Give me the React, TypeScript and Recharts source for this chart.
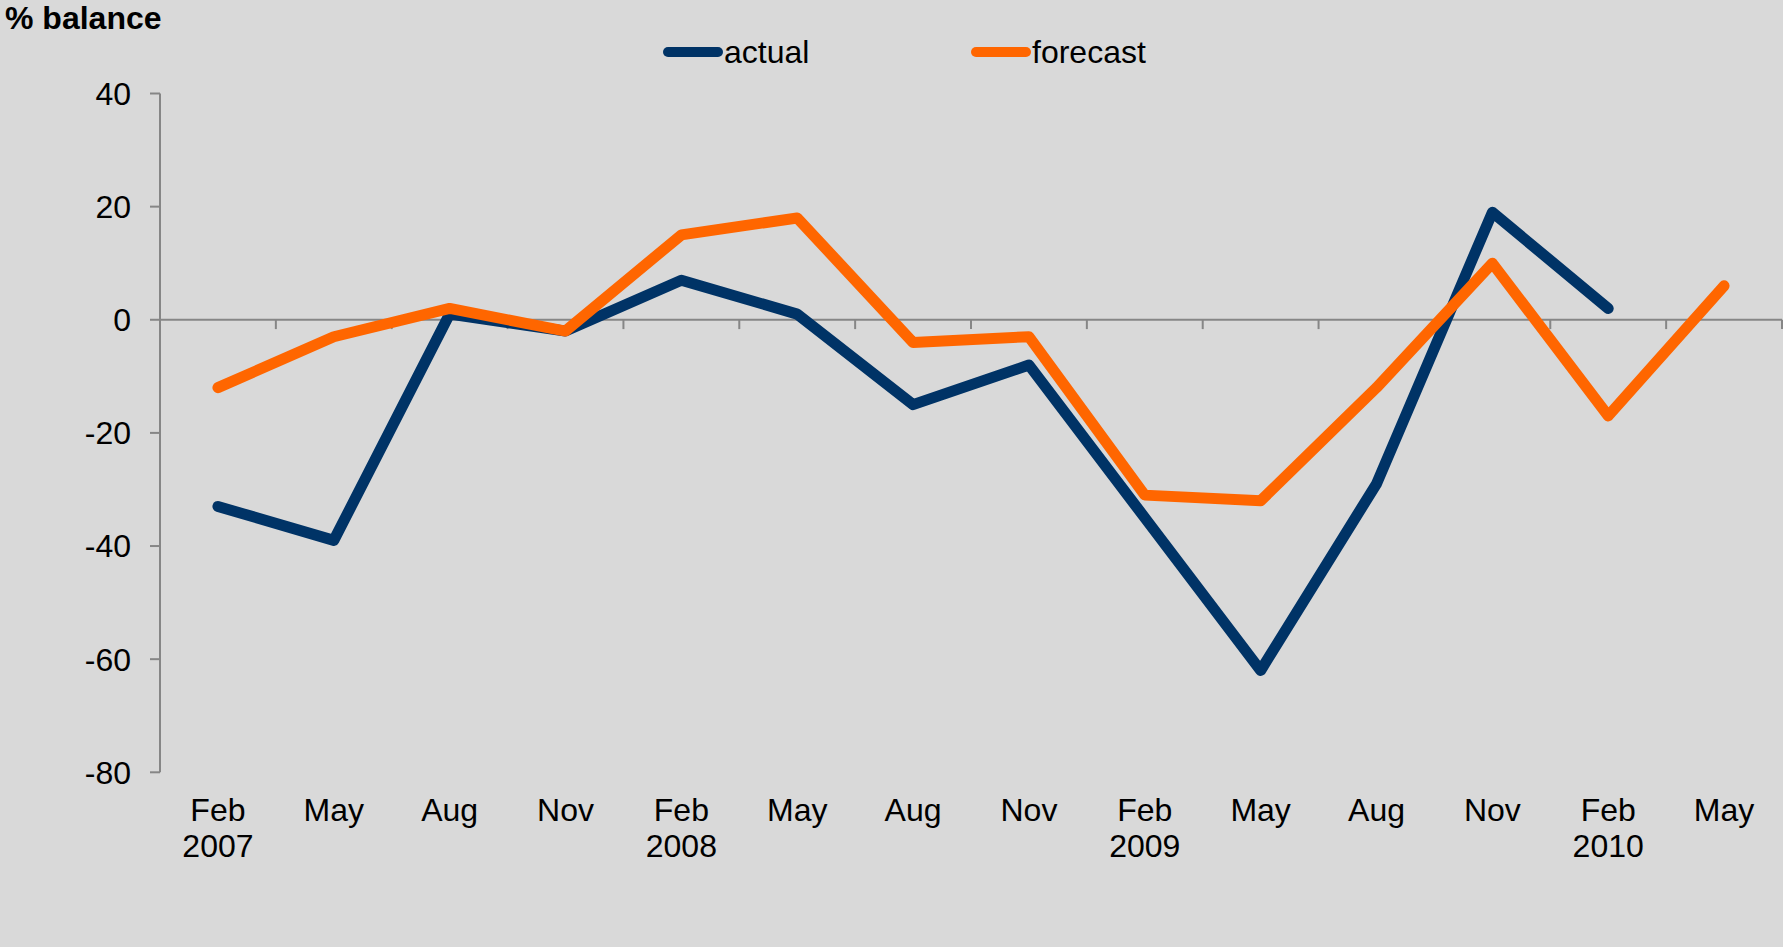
import { LineChart, Line, XAxis, YAxis, ReferenceLine, Legend } from 'recharts';

const months = ['Feb', 'May', 'Aug', 'Nov', 'Feb', 'May', 'Aug', 'Nov', 'Feb', 'May', 'Aug', 'Nov', 'Feb', 'May'];
const years = ['2007', '', '', '', '2008', '', '', '', '2009', '', '', '', '2010', ''];
const actual = [-33, -39, 1, -2, 7, 1, -15, -8, -35, -62, -29, 19, 2, null];
const forecast = [-12, -3, 2, -2, 15, 18, -4, -3, -31, -32, -12, 10, -17, 6];
const yTicks = [-80, -60, -40, -20, 0, 20, 40];

const font = '"Liberation Sans", Arial, sans-serif';
const axisGrey = '#868686';
const TICK_LEN = 1.65; // x-axis tick marks hang below zero line, in y units

const data = months.map((m, i) => ({ idx: i, month: m, year: years[i], actual: actual[i], forecast: forecast[i] }));
const boundaries = [...months.map((_, i) => i - 0.5), months.length - 0.5];

function MonthTick({ x, y, payload }: any) {
  const i = payload.value as number;
  return (
    <text x={x} y={y} textAnchor="middle" fontSize={32} fontFamily={font} fill="#000">
      <tspan x={x} dy={49}>{months[i]}</tspan>
      {years[i] ? <tspan x={x} dy={36}>{years[i]}</tspan> : null}
    </text>
  );
}

function LegendContent({ payload }: any) {
  return (
    <div style={{ display: 'flex' }}>
      {(payload ?? []).map((p: any) => (
        <div key={p.value} style={{ width: 308, height: 36, display: 'flex', alignItems: 'center' }}>
          <svg width={60} height={20}>
            <line x1={5} y1={10} x2={55} y2={10} stroke={p.color} strokeWidth={10} strokeLinecap="round" />
          </svg>
          <span style={{ fontFamily: font, fontSize: 32, color: '#000', marginLeft: 1 }}>{p.value}</span>
        </div>
      ))}
    </div>
  );
}

export default function App() {
  return (
    <div style={{ position: 'fixed', left: 0, top: 0, width: 1783, height: 947, background: '#d9d9d9' }}>
      <div style={{ position: 'absolute', left: 5, top: 0, fontFamily: font, fontSize: 32, fontWeight: 'bold', color: '#000' }}>% balance</div>
      <LineChart width={1783} height={947} data={data} margin={{ top: 93.5, right: 1, bottom: 0, left: 0 }}>
        <XAxis
          dataKey="idx"
          type="number"
          domain={[-0.5, 13.5]}
          ticks={data.map((d) => d.idx)}
          interval={0}
          height={174.7}
          axisLine={false}
          tickLine={false}
          tickSize={0}
          tickMargin={0}
          tick={<MonthTick />}
        />
        <YAxis
          domain={[-80, 40]}
          ticks={yTicks}
          width={160}
          tickSize={10}
          tickMargin={19}
          axisLine={{ stroke: axisGrey, strokeWidth: 2 }}
          tickLine={{ stroke: axisGrey, strokeWidth: 2 }}
          tick={{ fill: '#000', fontSize: 32, fontFamily: font }}
        />
        <ReferenceLine y={0} stroke={axisGrey} strokeWidth={2} />
        {boundaries.map((b) => (
          <ReferenceLine key={b} segment={[{ x: b, y: 0 }, { x: b, y: -TICK_LEN }]} stroke={axisGrey} strokeWidth={2} />
        ))}
        <Legend
          verticalAlign="middle"
          align="center"
          wrapperStyle={{ top: 34, left: 663, width: 640 }}
          content={<LegendContent />}
        />
        <Line name="actual" dataKey="actual" stroke="#003366" strokeWidth={11} strokeLinecap="round" strokeLinejoin="round" dot={false} activeDot={false} isAnimationActive={false} />
        <Line name="forecast" dataKey="forecast" stroke="#ff6600" strokeWidth={11} strokeLinecap="round" strokeLinejoin="round" dot={false} activeDot={false} isAnimationActive={false} />
      </LineChart>
    </div>
  );
}
